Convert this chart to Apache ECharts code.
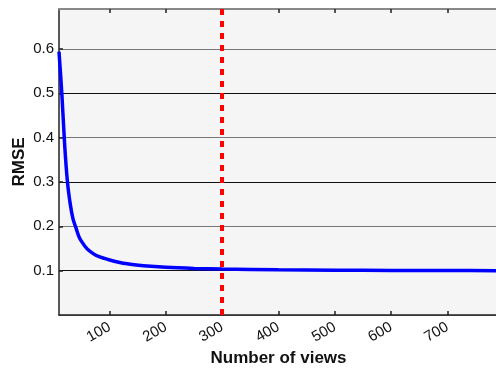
<!DOCTYPE html>
<html>
<head>
<meta charset="utf-8">
<script src="https://cdn.jsdelivr.net/npm/echarts@6/dist/echarts.min.js"></script>
<style>
  html, body { margin: 0; padding: 0; background: #fff; }
  #chart { width: 496px; height: 370px; }
</style>
</head>
<body>
<div id="chart"></div>
<script>
// RMSE as a function of the number of views
const views = [10, 15, 20, 25, 30, 35, 40, 45, 50, 60, 70, 80, 100, 120, 140, 160, 200, 250, 300, 400, 500, 600, 700, 790];
const rmse = [0.594, 0.50, 0.385, 0.30, 0.25, 0.216, 0.197, 0.178, 0.166, 0.149, 0.139, 0.132, 0.124, 0.118, 0.114, 0.111, 0.1075, 0.105, 0.1035, 0.102, 0.101, 0.1005, 0.1002, 0.1];
const xTicks = [100, 200, 300, 400, 500, 600, 700];
const chosenViews = 300;

const font = '"Liberation Sans", Arial, Helvetica, sans-serif';
const chart = echarts.init(document.getElementById('chart'));

chart.setOption({
  animation: false,
  grid: {
    left: 59, top: 9, width: 439, height: 306,
    outerBoundsMode: 'none', containLabel: false,
    show: true, backgroundColor: '#f5f5f5', borderWidth: 0
  },
  xAxis: [{
    type: 'value', min: 10, max: 790, position: 'bottom',
    name: 'Number of views', nameLocation: 'middle', nameGap: 35, nameMoveOverlap: false,
    nameTextStyle: { fontFamily: font, fontWeight: 'bold', fontSize: 17, color: '#111' },
    axisLine: { show: true, onZero: false, lineStyle: { color: '#222', width: 1.5 } },
    axisTick: { show: true, inside: true, length: 4, customValues: xTicks, lineStyle: { color: '#222', width: 1.5 } },
    axisLabel: { customValues: xTicks, rotate: 30, margin: 11, fontFamily: font, fontSize: 15, color: '#111' },
    splitLine: { show: false }
  }, {
    type: 'value', min: 10, max: 790, position: 'top',
    axisLine: { show: true, onZero: false, lineStyle: { color: '#888', width: 2 } },
    axisTick: { show: true, inside: true, length: 4, customValues: xTicks, lineStyle: { color: '#222', width: 1.5 } },
    axisLabel: { show: false },
    splitLine: { show: false }
  }],
  yAxis: {
    type: 'value', min: 0, max: 0.69, interval: 0.1,
    name: 'RMSE', nameLocation: 'middle', nameGap: 31, nameMoveOverlap: false,
    nameTextStyle: { fontFamily: font, fontWeight: 'bold', fontSize: 17, color: '#111' },
    axisLine: { show: true, onZero: false, lineStyle: { color: '#222', width: 1.5 } },
    axisTick: { show: true, inside: true, length: 4, lineStyle: { color: '#222', width: 1.5 } },
    axisLabel: {
      showMinLabel: false, showMaxLabel: false, margin: 5,
      fontFamily: font, fontSize: 15, color: '#111',
      formatter: v => v.toFixed(1)
    },
    splitLine: { show: true, showMinLine: true, showMaxLine: false, lineStyle: { color: ['#777', '#111'], width: 1 } }
  },
  series: [{
    type: 'line',
    data: views.map((v, i) => [v, rmse[i]]),
    smooth: 0.3,
    showSymbol: false,
    lineStyle: { color: '#0000ff', width: 3.5 },
    z: 3,
    markLine: {
      silent: true, symbol: 'none', label: { show: false },
      lineStyle: { color: '#ff0000', width: 4, type: [6, 6] },
      data: [{ xAxis: chosenViews }]
    }
  }]
});
</script>
</body>
</html>
